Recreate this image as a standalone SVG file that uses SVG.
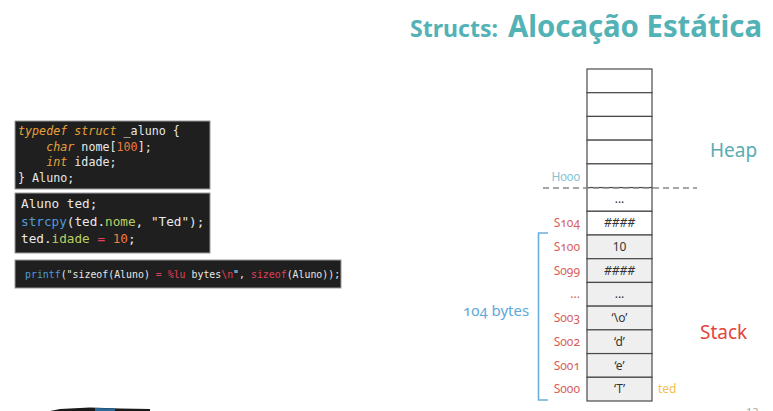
<svg xmlns="http://www.w3.org/2000/svg" width="773" height="411" viewBox="0 0 773 411">
<style>
.code{font-family:"DejaVu Sans Mono","Liberation Mono",monospace;fill:#e8e8e8;white-space:pre}
.box{fill:#1f1f1f;stroke:#9a9a9a;stroke-width:1}
.kw{fill:#e9a23b;font-style:italic}
.num{fill:#f07a3c}
.fn{fill:#4f9bd6}
.fld{fill:#b9cf63}
.red{fill:#e0405a}
.cell{fill:#ffffff;stroke:#4a4a4a;stroke-width:1.2}
.cellg{fill:#efefef;stroke:#4a4a4a;stroke-width:1.2}
.ct{font-family:"Noto Sans","Open Sans",sans-serif;font-size:12px;fill:#333;text-anchor:middle}
.lbl{font-family:"Noto Sans","Open Sans",sans-serif;font-size:12px;fill:#d9605a;text-anchor:end;font-variant-numeric:oldstyle-nums}
</style>
<rect width="773" height="411" fill="#ffffff"/>
<g id="title" font-family="'Noto Sans','Liberation Sans',sans-serif" font-weight="bold" fill="#52b2b5">
<text x="410" y="37" font-size="23" textLength="88" lengthAdjust="spacingAndGlyphs">Structs:</text>
<text x="508" y="37" font-size="30" textLength="254" lengthAdjust="spacingAndGlyphs">Alocação Estática</text>
</g>
<g id="code-struct">
<rect class="box" x="15" y="121" width="195" height="68"/>
<text class="code" font-size="11.7"><tspan x="18" y="135"><tspan class="kw">typedef struct</tspan> _aluno {</tspan><tspan x="18" y="150.5">    <tspan class="kw">char</tspan> nome[<tspan class="num">100</tspan>];</tspan><tspan x="18" y="166">    <tspan class="kw">int</tspan> idade;</tspan><tspan x="18" y="181.5">} Aluno;</tspan></text>
</g>
<g id="code-ted">
<rect class="box" x="15" y="193" width="195" height="60"/>
<text class="code" font-size="12.7"><tspan x="21" y="208">Aluno ted;</tspan><tspan x="21" y="225.5"><tspan class="fn">strcpy</tspan>(ted.<tspan class="fld">nome</tspan>, "Ted");</tspan><tspan x="21" y="243">ted.<tspan class="fld">idade</tspan> <tspan class="red">=</tspan> <tspan class="num">10</tspan>;</tspan></text>
</g>
<g id="code-printf">
<rect class="box" x="15" y="260" width="326" height="28"/>
<text class="code" font-size="9.9" x="25" y="278"><tspan class="fn">printf</tspan>("sizeof(Aluno) <tspan class="red">=</tspan> <tspan class="red">%lu</tspan> bytes<tspan class="red">\n</tspan>", <tspan class="red">sizeof</tspan>(Aluno));</text>
</g>
<g id="memory">
<rect class="cell" x="587" y="69" width="65" height="23.71"/>
<rect class="cell" x="587" y="92.71" width="65" height="23.71"/>
<rect class="cell" x="587" y="116.43" width="65" height="23.71"/>
<rect class="cell" x="587" y="140.14" width="65" height="23.71"/>
<rect class="cell" x="587" y="163.86" width="65" height="23.71"/>
<rect class="cell" x="587" y="187.57" width="65" height="23.71"/>
<rect class="cell" x="587" y="211.29" width="65" height="23.71"/>
<rect class="cellg" x="587" y="235" width="65" height="23.71"/>
<rect class="cellg" x="587" y="258.71" width="65" height="23.71"/>
<rect class="cellg" x="587" y="282.43" width="65" height="23.71"/>
<rect class="cellg" x="587" y="306.14" width="65" height="23.71"/>
<rect class="cellg" x="587" y="329.86" width="65" height="23.71"/>
<rect class="cellg" x="587" y="353.57" width="65" height="23.71"/>
<rect class="cellg" x="587" y="377.29" width="65" height="23.71"/>
<text class="ct" x="619.5" y="203">...</text>
<text class="ct" x="619.5" y="227" font-style="italic">####</text>
<text class="ct" x="619.5" y="251">10</text>
<text class="ct" x="619.5" y="275" font-style="italic">####</text>
<text class="ct" x="619.5" y="298">...</text>
<text class="ct" x="619.5" y="322">‘\o’</text>
<text class="ct" x="619.5" y="346">‘d’</text>
<text class="ct" x="619.5" y="370">‘e’</text>
<text class="ct" x="619.5" y="393">‘T’</text>
</g>
<g id="labels">
<text class="lbl" x="580" y="181" style="fill:#86c3d2">H000</text>
<text class="lbl" x="580" y="227">S104</text>
<text class="lbl" x="580" y="251">S100</text>
<text class="lbl" x="580" y="275">S099</text>
<text class="lbl" x="580" y="298">...</text>
<text class="lbl" x="580" y="322">S003</text>
<text class="lbl" x="580" y="346">S002</text>
<text class="lbl" x="580" y="370">S001</text>
<text class="lbl" x="580" y="393">S000</text>
<text x="658" y="393" font-family="'Noto Sans',sans-serif" font-size="12" fill="#f2c14e">ted</text>
<text x="710" y="157" font-family="'Noto Sans',sans-serif" font-size="19" fill="#5aacb2">Heap</text>
<text x="700" y="339" font-family="'Noto Sans',sans-serif" font-size="19" fill="#e2453c">Stack</text>
<text x="463" y="316" font-family="'Noto Sans',sans-serif" font-size="15" fill="#5ea9d9" style="font-variant-numeric:oldstyle-nums">104 bytes</text>
<text x="746" y="416" font-family="'Noto Sans',sans-serif" font-size="11" fill="#aaaaaa">12</text>
</g>
<g id="connectors" fill="none">
<line x1="543" y1="188" x2="697" y2="188" stroke="#8a8a8a" stroke-width="1.3" stroke-dasharray="6,4"/>
<path d="M548 233 H538.5 V400 H548" stroke="#6ab0dc" stroke-width="1.6"/>
</g>
<path d="M50 411 L60 409 L90 407.5 L120 408.5 L150 409 L150 411 Z" fill="#1a1a1a"/>
<path d="M95 411 L95 408 L115 408.5 L115 411 Z" fill="#2a6a9a"/>
</svg>
